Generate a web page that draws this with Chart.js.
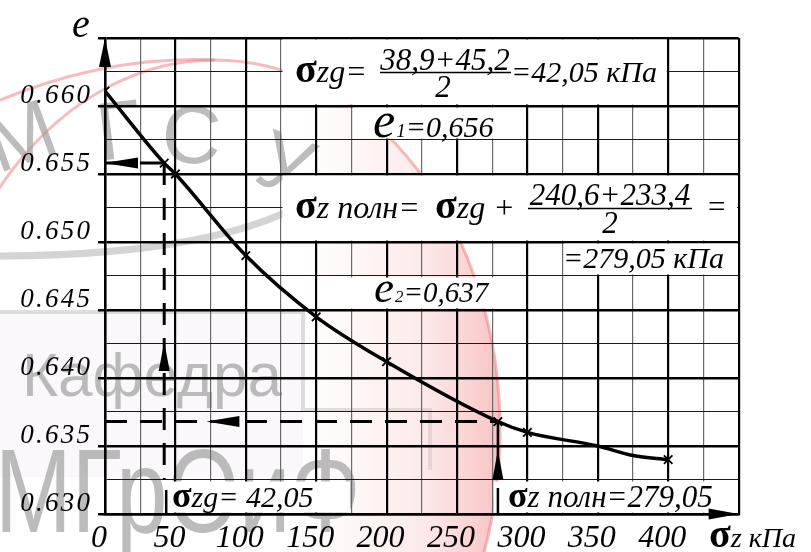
<!DOCTYPE html>
<html><head><meta charset="utf-8">
<script src="https://cdn.jsdelivr.net/npm/chart.js@4.4.0/dist/chart.umd.min.js"></script>
<style>html,body{margin:0;padding:0;background:#fff;overflow:hidden}</style>
</head><body>
<canvas id="c" width="811" height="552"></canvas>
<script>
// ---- data ----
const stressKPa = [0, 42.05, 50, 100, 150, 200, 279.05, 300, 350, 375, 400];
const voidRatio = [0.6611, 0.6558, 0.6550, 0.6490, 0.6445, 0.6412, 0.6368, 0.6360, 0.6350, 0.6343, 0.6340];
const marked    = [true, true, true, true, true, true, true, true, false, false, true];
const xTickLabels = [0, 50, 100, 150, 200, 250, 300, 350, 400];
const yTickLabels = [0.630, 0.635, 0.640, 0.645, 0.650, 0.655, 0.660];
const sigmaZg = 42.05, e1 = 0.6558;
const sigmaZfull = 279.05, e2 = 0.6368;
const xMin = 0, xMax = 450, xStep = 25;
const yMin = 0.630, yMax = 0.665, yStep = 0.0025;

const gridX = []; for (let v = xMin; v <= xMax + 1e-9; v += xStep) gridX.push(v);
const gridY = []; for (let i = 0; i <= Math.round((yMax - yMin) / yStep); i++) gridY.push(+(yMin + i * yStep).toFixed(4));

const SER = '"Liberation Serif"';
const SANS = '"Liberation Sans"';
const HS = '\u200A';
const spaced = s => s.split('').join(HS);
const isMajorX = v => Math.abs(v % 50) < 1e-6;
const isMajorY = v => Math.abs(Math.round(v * 1000 / 5) - v * 1000 / 5) < 1e-6;

function runs(ctx, x, y, parts) {
  for (const p of parts) {
    ctx.font = p.f;
    x += (p.dx || 0);
    ctx.fillText(p.t, x, y + (p.dy || 0));
    x += ctx.measureText(p.t).width;
  }
  return x;
}
function tri(ctx, tx, ty, bx, by, half) {
  const dx = tx - bx, dy = ty - by, L = Math.hypot(dx, dy);
  const nx = -dy / L * half, ny = dx / L * half;
  ctx.beginPath();
  ctx.moveTo(tx, ty); ctx.lineTo(bx + nx, by + ny); ctx.lineTo(bx - nx, by - ny);
  ctx.closePath(); ctx.fill();
}

const boxes = [
  [125, 400, 0.660, 0.665],
  [175, 300, 0.6575, 0.660],
  [125, 450, 0.650, 0.655],
  [325, 450, 0.6475, 0.650],
  [150, 300, 0.645, 0.6475],
  [sigmaZg, 175, 0.630, 0.6325],
  [275, 450, 0.630, 0.6325]
];

const decor = {
  id: 'decor',
  beforeDraw(chart) {
    const ctx = chart.ctx;
    ctx.save();
    ctx.fillStyle = '#fff'; ctx.fillRect(0, 0, chart.width, chart.height);
    // faint logo frame
    ctx.fillStyle = 'rgba(240,234,240,0.35)'; ctx.fillRect(0, 312, 303, 165);
    ctx.strokeStyle = 'rgba(185,185,185,0.45)'; ctx.lineWidth = 4;
    ctx.beginPath(); ctx.moveTo(0, 312); ctx.lineTo(303, 312); ctx.lineTo(303, 410); ctx.lineTo(430, 410); ctx.lineTo(430, 470); ctx.stroke();
    // pink circle
    ctx.beginPath();
    ctx.ellipse(215, 430, 285, 370, 0, 0, Math.PI * 2);
    const g = ctx.createLinearGradient(300, 0, 500, 0);
    g.addColorStop(0, 'rgba(250,205,205,0)');
    g.addColorStop(0.6, 'rgba(248,195,195,0.35)');
    g.addColorStop(1, 'rgba(245,160,160,0.65)');
    ctx.fillStyle = g; ctx.fill();
    ctx.strokeStyle = 'rgba(240,120,120,0.5)'; ctx.lineWidth = 3; ctx.stroke();
    ctx.beginPath(); ctx.moveTo(0, 100); ctx.quadraticCurveTo(110, 55, 215, 60);
    ctx.stroke();
    ctx.strokeStyle = 'rgba(170,170,170,0.5)'; ctx.lineWidth = 7;
    ctx.beginPath(); ctx.moveTo(0, 256); ctx.quadraticCurveTo(250, 255, 335, 182); ctx.stroke();
    ctx.fillStyle = 'rgba(160,160,160,0.7)';
    ctx.font = '82px ' + SANS;
    const letters = [['М', 30, 162, -0.35], ['Г', 122, 158, -0.12], ['С', 190, 163, 0.05], ['У', 276, 190, 0.35]];
    for (const [t, x, y, r] of letters) { ctx.save(); ctx.translate(x, y); ctx.rotate(r); ctx.textAlign = 'center'; ctx.fillText(t, 0, 0); ctx.restore(); }
    ctx.font = '62px ' + SANS; ctx.fillText('Кафедра', 22, 396);
    ctx.save(); ctx.translate(-5, 532); ctx.scale(0.78, 1);
    ctx.font = '118px ' + SANS; ctx.fillText('МГрОиФ', 0, 0);
    ctx.restore();
    ctx.restore();
  },
  beforeDatasetsDraw(chart) {
    const ctx = chart.ctx, X = chart.scales.x, Y = chart.scales.y;
    ctx.save();
    ctx.fillStyle = '#fff';
    for (const [a, b, c, d] of boxes) {
      const x0 = X.getPixelForValue(a) + 1.5, x1 = X.getPixelForValue(b) - 1.5;
      const y0 = Y.getPixelForValue(d) + 1.5, y1 = Y.getPixelForValue(c) - 1.5;
      ctx.fillRect(x0, y0, x1 - x0, y1 - y0);
    }
    ctx.restore();
  },
  afterDatasetsDraw(chart) {
    const ctx = chart.ctx, X = chart.scales.x, Y = chart.scales.y, A = chart.chartArea;
    ctx.save();
    ctx.fillStyle = '#000'; ctx.strokeStyle = '#000';
    tri(ctx, A.left, A.top, A.left, A.top + 29, 6);
    tri(ctx, A.right, A.bottom, A.right - 30, A.bottom, 5.5);
    const xs = X.getPixelForValue(sigmaZg), xf = X.getPixelForValue(sigmaZfull);
    const ye1 = Y.getPixelForValue(e1), ye2 = Y.getPixelForValue(e2);
    tri(ctx, A.left - 1, ye1, A.left + 33, ye1, 5.5);
    tri(ctx, xs, Y.getPixelForValue(0.64265), xs, Y.getPixelForValue(0.64265) + 29, 5.5);
    tri(ctx, X.getPixelForValue(72), ye2, X.getPixelForValue(72) + 33, ye2, 5.5);
    tri(ctx, xf, Y.getPixelForValue(0.6347), xf, Y.getPixelForValue(0.6347) + 30, 5.5);
    ctx.lineWidth = 2.5;
    ctx.beginPath(); ctx.moveTo(xs + 2, 490); ctx.lineTo(xs + 2, A.bottom); ctx.stroke();
    ctx.beginPath(); ctx.moveTo(xf, 488); ctx.lineTo(xf, A.bottom); ctx.stroke();

    ctx.textBaseline = 'alphabetic';
    const sig = s => 'bold ' + s + 'px ' + SER;
    const it = s => 'italic ' + s + 'px ' + SER;
    ctx.textAlign = 'left';
    runs(ctx, 295, 82, [{ t: 'σ', f: sig(40) }, { t: 'zg=', f: it(32) }]);
    ctx.textAlign = 'center';
    ctx.font = it(31); ctx.fillText('38,9+45,2', 445, 70); ctx.fillText('2', 443, 97);
    ctx.lineWidth = 1.5; ctx.beginPath(); ctx.moveTo(380, 72.5); ctx.lineTo(511, 72.5); ctx.stroke();
    ctx.textAlign = 'left';
    runs(ctx, 511, 82, [{ t: '=42,05 кПа', f: it(30) }]);
    runs(ctx, 373, 137, [{ t: 'e', f: it(50) }, { t: '1', f: it(19), dx: 1 }, { t: '=0,656', f: it(30) }]);
    runs(ctx, 295, 218, [{ t: 'σ', f: sig(40) }, { t: 'z полн=', f: it(32) }]);
    runs(ctx, 435, 218, [{ t: 'σ', f: sig(40) }, { t: 'zg', f: it(32) }, { t: ' +', f: it(32) }]);
    ctx.textAlign = 'center';
    ctx.font = it(31); ctx.fillText('240,6+233,4', 610, 205); ctx.fillText('2', 610, 233);
    ctx.beginPath(); ctx.moveTo(528, 208.5); ctx.lineTo(692, 208.5); ctx.stroke();
    ctx.textAlign = 'left';
    runs(ctx, 706, 217, [{ t: '=', f: it(31) }]);
    runs(ctx, 563, 268, [{ t: '=279,05 кПа', f: it(30) }]);
    runs(ctx, 374, 302, [{ t: 'e', f: it(45) }, { t: '2', f: it(17), dx: 1 }, { t: '=0,637', f: it(29) }]);
    runs(ctx, 172, 507, [{ t: 'σ', f: sig(36) }, { t: 'zg= 42,05', f: it(30) }]);
    runs(ctx, 508, 507, [{ t: 'σ', f: sig(36) }, { t: 'z полн=279,05', f: it(31) }]);
    runs(ctx, 72, 37, [{ t: 'e', f: it(40) }]);
    runs(ctx, 709, 547, [{ t: 'σ', f: sig(40) }, { t: 'z кПа', f: it(28) }]);
    ctx.restore();
  }
};

const pts = stressKPa.map((v, i) => ({ x: v, y: voidRatio[i] }));
const chart = new Chart(document.getElementById('c'), {
  type: 'scatter',
  data: {
    datasets: [
      { data: [{ x: 0, y: e1 }, { x: sigmaZg, y: e1 }], showLine: true, borderColor: '#000', borderWidth: 3, borderDash: [22, 13], pointRadius: 0 },
      { data: [{ x: sigmaZg, y: e1 }, { x: sigmaZg, y: 0.6325 }], showLine: true, borderColor: '#000', borderWidth: 3, borderDash: [22, 13], pointRadius: 0 },
      { data: [{ x: 0, y: e2 }, { x: sigmaZfull, y: e2 }], showLine: true, borderColor: '#000', borderWidth: 3, borderDash: [22, 13], pointRadius: 0 },
      { data: [{ x: sigmaZfull, y: e2 }, { x: sigmaZfull, y: 0.6325 }], showLine: true, borderColor: '#000', borderWidth: 2.5, pointRadius: 0 },
      { data: pts, showLine: true, borderColor: '#000', borderWidth: 3.5, cubicInterpolationMode: 'monotone',
        pointStyle: 'crossRot', pointRadius: c => marked[c.dataIndex] ? 6 : 0, pointBorderColor: '#000', pointBorderWidth: 1.8, pointBackgroundColor: '#000' }
    ]
  },
  options: {
    responsive: false, animation: false, devicePixelRatio: 1,
    layout: { padding: { left: 0, top: 38, right: 72.4, bottom: 0 } },
    plugins: { legend: { display: false }, tooltip: { enabled: false }, title: { display: false } },
    scales: {
      x: {
        type: 'linear', min: xMin, max: xMax,
        afterBuildTicks: s => { s.ticks = gridX.map(v => ({ value: v })); },
        afterFit: s => { s.height = 38; },
        ticks: {
          autoSkip: false, maxRotation: 0, color: '#000', padding: 9, labelOffset: -6,
          font: { family: SER, style: 'italic', size: 32, lineHeight: 1 },
          callback: v => xTickLabels.some(t => Math.abs(t - v) < 1e-6) ? String(v) : ''
        },
        grid: {
          drawTicks: false,
          color: c => isMajorX(c.tick.value) ? '#000' : '#6a6a6a',
          lineWidth: c => isMajorX(c.tick.value) ? 2.2 : 1.2
        },
        border: { display: true, color: '#000', width: 2.5 }
      },
      y: {
        type: 'linear', min: yMin, max: yMax,
        afterBuildTicks: s => { s.ticks = gridY.map(v => ({ value: v })); },
        afterFit: s => { s.width = 105; },
        ticks: {
          autoSkip: false, color: '#000', padding: 8, labelOffset: -10,
          font: { family: SER, style: 'italic', size: 27, lineHeight: 1 },
          callback: v => yTickLabels.some(t => Math.abs(t - v) < 1e-6) ? spaced(v.toFixed(3)) : ''
        },
        grid: {
          drawTicks: true, tickLength: 7, tickWidth: 2.5,
          tickColor: c => isMajorY(c.tick.value) ? '#000' : 'rgba(0,0,0,0)',
          color: c => isMajorY(c.tick.value) ? '#000' : '#1a1a1a',
          lineWidth: c => isMajorY(c.tick.value) ? 2.5 : 1.1
        },
        border: { display: true, color: '#000', width: 2.5 }
      }
    }
  },
  plugins: [decor]
});
</script>
</body></html>
